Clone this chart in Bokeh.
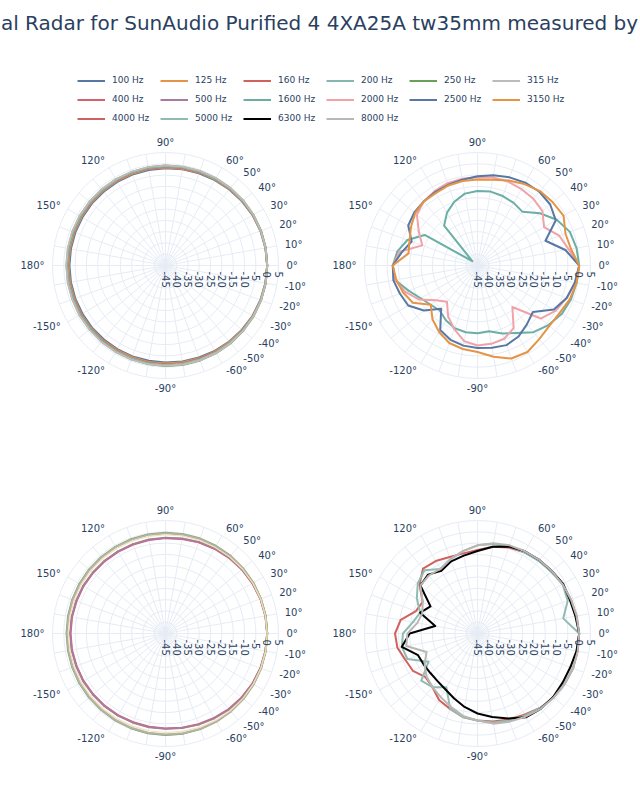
import numpy as np
from bokeh.plotting import figure
from bokeh.models import Range1d, Legend, LegendItem, Label
from bokeh.embed import file_html
from bokeh.resources import INLINE
from bokeh.core.properties import value

# ---------------- data ----------------
TITLE_TEXT = "al Radar for SunAudio Purified 4 4XA25A tw35mm measured by"

THETA = [0, 10, 20, 30, 40, 50, 60, 70, 80, 90, 100, 110, 120, 130, 140, 150, 160, 170, 180,
         -170, -160, -150, -140, -130, -120, -110, -100, -90, -80, -70, -60, -50, -40, -30, -20, -10]

# top-left: 100 .. 315 Hz
DB_100 = [0, -0.1, -0.3, -0.5, -0.8, -1.1, -1.4, -1.6, -1.8, -2.0, -2.1, -2.2, -2.3, -2.4, -2.4, -2.5, -2.5, -2.5, -2.5,
          -2.5, -2.5, -2.5, -2.4, -2.4, -2.3, -2.2, -2.2, -2.1, -1.9, -1.7, -1.4, -1.1, -0.8, -0.5, -0.3, -0.1]
DB_125 = [0, -0.1, -0.2, -0.4, -0.6, -0.9, -1.1, -1.3, -1.5, -1.6, -1.7, -1.8, -1.9, -2.0, -2.0, -2.1, -2.1, -2.1, -2.1,
          -2.1, -2.1, -2.0, -2.0, -1.9, -1.9, -1.8, -1.7, -1.6, -1.5, -1.3, -1.1, -0.9, -0.6, -0.4, -0.2, -0.1]
DB_160 = [0, 0, -0.1, -0.3, -0.5, -0.7, -0.9, -1.1, -1.2, -1.3, -1.4, -1.5, -1.6, -1.7, -1.7, -1.8, -1.8, -1.8, -1.8,
          -1.8, -1.8, -1.7, -1.7, -1.6, -1.5, -1.4, -1.3, -1.2, -1.1, -1.0, -0.8, -0.6, -0.4, -0.3, -0.1, 0]
DB_200 = [0, 0, -0.1, -0.2, -0.4, -0.6, -0.8, -0.9, -1.0, -1.1, -1.2, -1.3, -1.4, -1.5, -1.5, -1.6, -1.6, -1.6, -1.6,
          -1.6, -1.6, -1.5, -1.5, -1.4, -1.3, -1.2, -1.1, -1.0, -0.9, -0.8, -0.6, -0.5, -0.3, -0.2, -0.1, 0]
DB_250 = [0, 0, 0, -0.1, -0.2, -0.3, -0.5, -0.6, -0.7, -0.8, -0.9, -1.0, -1.0, -1.1, -1.1, -1.2, -1.2, -1.2, -1.2,
          -1.2, -1.2, -1.1, -1.1, -1.0, -0.9, -0.8, -0.7, -0.5, -0.4, -0.3, -0.2, -0.1, -0.1, 0, 0, 0]
DB_315 = [0, 0, -0.1, -0.1, -0.2, -0.3, -0.4, -0.5, -0.6, -0.7, -0.8, -0.9, -1.0, -1.0, -1.1, -1.1, -1.1, -1.1, -1.1,
          -1.1, -1.1, -1.0, -1.0, -0.9, -0.9, -0.8, -0.7, -0.6, -0.5, -0.4, -0.3, -0.2, -0.1, -0.1, 0, 0]

# bottom-left: 400 .. 1000 Hz
DB_400 = [0, -0.1, -0.3, -0.6, -0.9, -1.3, -1.7, -2.1, -2.5, -2.8, -3.0, -3.1, -3.2, -3.2, -3.2, -3.1, -3.1, -3.0, -3.0,
          -3.0, -3.1, -3.1, -3.2, -3.2, -3.2, -3.2, -3.1, -3.0, -2.7, -2.3, -1.9, -1.4, -1.0, -0.6, -0.3, -0.1]
DB_500 = [0, -0.1, -0.2, -0.5, -0.8, -1.1, -1.5, -1.9, -2.3, -2.6, -2.8, -2.9, -3.0, -3.0, -3.0, -2.9, -2.9, -2.8, -2.8,
          -2.8, -2.9, -2.9, -3.0, -3.0, -3.0, -3.0, -2.9, -2.8, -2.5, -2.1, -1.7, -1.2, -0.8, -0.5, -0.2, -0.1]
DB_630 = [0, 0, -0.1, -0.1, -0.2, -0.2, -0.3, -0.3, -0.4, -0.4, -0.5, -0.6, -0.7, -0.8, -0.9, -1.0, -1.1, -1.2, -1.2,
          -1.2, -1.1, -1.0, -0.9, -0.8, -0.6, -0.4, -0.2, -0.1, 0, 0, 0, 0, 0, 0, 0, 0]
DB_800 = [0, 0, -0.1, -0.2, -0.3, -0.4, -0.5, -0.5, -0.6, -0.6, -0.7, -0.8, -0.9, -1.0, -1.1, -1.2, -1.3, -1.4, -1.4,
          -1.4, -1.3, -1.2, -1.1, -1.0, -0.8, -0.6, -0.4, -0.3, -0.2, -0.1, -0.1, 0, 0, 0, 0, 0]
DB_1000 = [0, -0.1, -0.2, -0.4, -0.6, -0.8, -1.0, -1.1, -1.2, -1.3, -1.4, -1.5, -1.6, -1.7, -1.8, -1.9, -2.0, -2.0, -2.0,
           -2.0, -2.0, -1.9, -1.8, -1.7, -1.6, -1.5, -1.3, -1.2, -1.0, -0.8, -0.6, -0.4, -0.3, -0.2, -0.1, 0]

# top-right: 1600 .. 3150 Hz
DB_1600 = [0, -0.5, -1.5, -4.5, -9, -14, -13, -12.3, -11.8, -12, -12.7, -15, -18, -22, -42, -18, -12, -9, -7.5,
           -8, -12.5, -16, -18, -19, -17, -15.5, -15, -15, -15.5, -13, -10.5, -6.5, -4, -2, -1, -0.5]
DB_2000 = [0, -4, -6.5, -11, -7.5, -6.5, -6, -5.5, -5.5, -6, -6, -6.2, -7, -8, -10, -15, -19, -10, -7.5,
           -8, -11, -15, -21, -24, -19, -15, -11, -9.6, -9.8, -10.5, -13, -21, -8.5, -5, -3, -1]
DB_2500 = [0, -5.5, -13, -5, -3, -2.4, -2.7, -3.5, -4.5, -5.5, -6.5, -7, -7.5, -8, -8.5, -9.6, -14, -11, -7.5,
           -7.2, -8.5, -9.6, -14, -20, -12, -10, -9, -8.5, -8, -7.5, -8.7, -11, -13, -6, -3, -1.3]
DB_3150 = [0, -3, -3.6, -1, -1.5, -2, -3.4, -5, -6.5, -7, -7, -7.3, -8, -8, -9, -11, -13, -14, -7.5,
           -8.5, -10, -12, -18, -14, -11, -8.5, -7.5, -6.7, -4, -1.2, -0.8, -2.5, -3.5, -3, -1.5, -0.5]

# bottom-right: 4000 .. 8000 Hz
DB_4000 = [0, -0.5, -1, -1.5, -2, -2.5, -3.5, -4.5, -6, -8, -9, -9, -8, -7.5, -11.5, -17, -16, -10.5, -8.5,
           -9, -11, -12, -15, -14, -11, -9.5, -7.5, -6.5, -5.5, -4.5, -3.5, -2, -1, -0.5, 0, 0]
DB_5000 = [0, -6.5, -2.5, -1.5, -2.5, -3, -3.5, -4, -4.8, -6, -8, -10, -12, -8.5, -10.5, -14, -18, -16, -12,
           -11, -12, -20, -12.5, -14, -17.5, -9.6, -7.5, -6.5, -5, -4, -3, -2, -1, -0.5, 0, -0.5]
DB_6300 = [0, -1, -1.5, -1.2, -2, -2.5, -3, -4, -6, -8.5, -10, -11, -13, -11, -12, -21, -18, -26, -15,
           -11, -17, -17.5, -17.8, -17.5, -16.5, -14.5, -12, -9.6, -7.5, -5, -2.2, -1.5, -1.3, -1.5, -1.3, -0.5]
DB_8000 = [0, -0.5, -1, -1.5, -2, -2.5, -3, -3.5, -4.5, -6, -8, -10, -12, -11.5, -12, -17, -19, -18, -14,
           -13, -21, -18, -15.5, -14, -12.5, -10.5, -8, -6.5, -4.5, -3.5, -2.5, -1.5, -1, -0.5, 0, 0]

ANGULAR_TICKS = [0, 10, 20, 30, 40, 50, 60, 90, 120, 150, 180, -150, -120, -90, -60, -50, -40, -30, -20, -10]
ANGULAR_LABELS = ["0°", "10°", "20°", "30°", "40°", "50°", "60°", "90°", "120°", "150°", "180°",
                  "-150°", "-120°", "-90°", "-60°", "-50°", "-40°", "-30°", "-20°", "-10°"]
RADIAL_TICKS = [-45, -40, -35, -30, -25, -20, -15, -10, -5, 0, 5]
RADIAL_LABELS = ["-45", "-40", "-35", "-30", "-25", "-20", "-15", "-10", "-5", "0", "5"]

# (label, values, colour, in legend)
SUBPLOTS = [
    [("100 Hz", DB_100, "#5778a4", True), ("125 Hz", DB_125, "#e49444", True),
     ("160 Hz", DB_160, "#d1615d", True), ("200 Hz", DB_200, "#85b6b2", True),
     ("250 Hz", DB_250, "#6a9f58", True), ("315 Hz", DB_315, "#bfbbb9", True)],
    [("1600 Hz", DB_1600, "#6aaea6", True), ("2000 Hz", DB_2000, "#f1a2a9", True),
     ("2500 Hz", DB_2500, "#5778a4", True), ("3150 Hz", DB_3150, "#e49444", True)],
    [("400 Hz", DB_400, "#d6606b", True), ("500 Hz", DB_500, "#a87c9f", True),
     ("630 Hz", DB_630, "#7fa36c", False), ("800 Hz", DB_800, "#b5b2a6", False),
     ("1000 Hz", DB_1000, "#efe3b0", False)],
    [("4000 Hz", DB_4000, "#d1615d", True), ("5000 Hz", DB_5000, "#8fbcb2", True),
     ("6300 Hz", DB_6300, "#000000", True), ("8000 Hz", DB_8000, "#bab6b4", True)],
]
LEGEND_ORDER = ["100 Hz", "125 Hz", "160 Hz", "200 Hz", "250 Hz", "315 Hz",
                "400 Hz", "500 Hz", "1600 Hz", "2000 Hz", "2500 Hz", "3150 Hz",
                "4000 Hz", "5000 Hz", "6300 Hz", "8000 Hz"]

# ---------------- layout / style ----------------
W, H = 640, 800
R_MIN, R_MAX = -45.0, 5.0
R_OUT = 113.0
CENTERS = [(165, 535), (477, 535), (165, 167), (477, 167)]
GRID = "#e6ecf5"
TXT = "#2a3f5f"
FONT = "DejaVu Sans"


def radius(db):
    db = np.clip(np.asarray(db, dtype=float), R_MIN, R_MAX)
    return (db - R_MIN) / (R_MAX - R_MIN) * R_OUT


def polar_xy(cx, cy, thetas, dbs):
    t = np.radians(np.asarray(thetas, dtype=float))
    r = radius(dbs)
    return cx + r * np.cos(t), cy + r * np.sin(t)


p = figure(width=W, height=H, output_backend="svg", toolbar_location=None,
           x_range=Range1d(0, W), y_range=Range1d(0, H),
           x_axis_type=None, y_axis_type=None, min_border=0,
           outline_line_color=None, background_fill_color="white")
p.grid.visible = False

spoke_angles = np.arange(0, 360, 10)
renderers = {}

for (cx, cy), traces in zip(CENTERS, SUBPLOTS):
    rr = radius(RADIAL_TICKS[1:])
    p.circle(x=[cx] * len(rr), y=[cy] * len(rr), radius=rr,
             fill_color=None, line_color=GRID, line_width=1)
    ta = np.radians(spoke_angles)
    p.segment(x0=[cx] * len(ta), y0=[cy] * len(ta),
              x1=cx + R_OUT * np.cos(ta), y1=cy + R_OUT * np.sin(ta),
              line_color=GRID, line_width=1)

    for label, vals, col, in_leg in traces:
        th = THETA + THETA[:1]
        vv = list(vals) + list(vals[:1])
        x, y = polar_xy(cx, cy, th, vv)
        lw = 1.2 if label == "1000 Hz" else 2
        r = p.line(x, y, line_color=col, line_width=lw, line_join="round")
        if in_leg:
            renderers[label] = r

    lab_r = R_OUT + 8
    groups = {"left": ([], [], []), "right": ([], [], []), "center": ([], [], [])}
    for ang, txt in zip(ANGULAR_TICKS, ANGULAR_LABELS):
        a = np.radians(ang)
        c = np.cos(a)
        key = "left" if c > 0.1 else ("right" if c < -0.1 else "center")
        rr_l = lab_r + (2 if key == "center" else 0)
        groups[key][0].append(cx + rr_l * np.cos(a))
        groups[key][1].append(cy + rr_l * np.sin(a))
        groups[key][2].append(txt)
    for key, (xs, ys, ts) in groups.items():
        if xs:
            p.text(x=xs, y=ys, text=ts, text_align=key, text_baseline="middle",
                   text_font=value(FONT), text_font_size="10px", text_color=TXT)

    p.text(x=cx + radius(RADIAL_TICKS), y=[cy - 6] * len(RADIAL_TICKS), text=RADIAL_LABELS,
           angle=-np.pi / 2, text_align="left", text_baseline="middle",
           text_font=value(FONT), text_font_size="10px", text_color=TXT)

p.add_layout(Label(x=319, y=H - 22, text=TITLE_TEXT, text_align="center", text_baseline="middle",
                   text_font=FONT, text_font_size="20px", text_color=TXT))

items = [LegendItem(label=lab, renderers=[renderers[lab]]) for lab in LEGEND_ORDER]
legend = Legend(items=items, orientation="horizontal", ncols=6,
                location=(77, H - 127.5),
                glyph_width=28, glyph_height=19, label_height=19, label_width=48,
                label_standoff=7, spacing=0, padding=0, margin=0,
                border_line_color=None, background_fill_alpha=0,
                label_text_font=FONT, label_text_font_size="9px", label_text_color=TXT)
p.add_layout(legend)

open("out.html", "w").write(file_html(p, INLINE))
